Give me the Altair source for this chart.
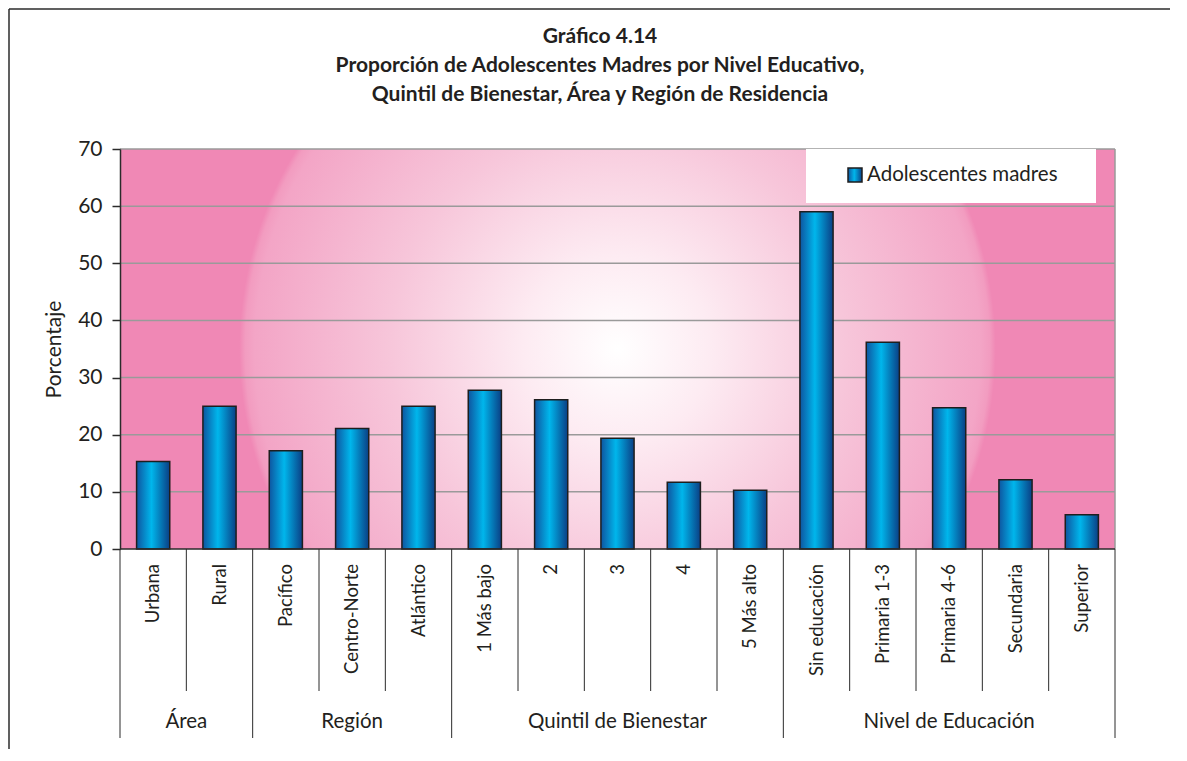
import altair as alt
import pandas as pd

# ---------------- data ----------------
CATEGORIES = ["Urbana", "Rural", "Pacífico", "Centro-Norte", "Atlántico",
              "1 Más bajo", "2", "3", "4", "5 Más alto",
              "Sin educación", "Primaria 1-3", "Primaria 4-6", "Secundaria", "Superior"]
VALUES = [15.3, 25.0, 17.2, 21.1, 25.0,
          27.8, 26.1, 19.4, 11.7, 10.3,
          59.0, 36.2, 24.7, 12.1, 6.0]
GROUPS = ["Área", "Región", "Quintil de Bienestar", "Nivel de Educación"]
GROUP_SIZES = [2, 3, 5, 5]
Y_TICKS = [0, 10, 20, 30, 40, 50, 60, 70]
SERIES = "Adolescentes madres"
Y_TITLE = "Porcentaje"
TITLE_LINES = ["Gráfico 4.14",
               "Proporción de Adolescentes Madres por Nivel Educativo,",
               "Quintil de Bienestar, Área y Región de Residencia"]

# ---------------- styling ----------------
W, H = 995, 400
FONT = "Lato"
TXT = "#231f20"
LINE = "#2b2b2b"
GRID = "#9a9a9a"

n = len(CATEGORIES)
group_edges = [0]
for s in GROUP_SIZES:
    group_edges.append(group_edges[-1] + s)
group_centers = [(group_edges[i] + group_edges[i + 1]) / 2 for i in range(len(GROUPS))]

bars_df = pd.DataFrame({"cat": CATEGORIES, "val": VALUES})
cat_df = pd.DataFrame({"label": CATEGORIES, "pos": [i + 0.5 for i in range(n)]})
grp_df = pd.DataFrame({"label": GROUPS, "pos": group_centers})
short_df = pd.DataFrame({"b": [b for b in range(n + 1) if b not in group_edges]})
long_df = pd.DataFrame({"b": group_edges})
grid_df = pd.DataFrame({"val": Y_TICKS[1:]})
one = pd.DataFrame({"k": [0]})

bg_grad = {
    "gradient": "radial",
    "x1": 0.5, "y1": 0.5, "r1": 0,
    "x2": 0.5, "y2": 0.5, "r2": 0.38,
    "stops": [
        {"offset": 0.0, "color": "#ffffff"},
        {"offset": 0.25, "color": "#fdebf2"},
        {"offset": 0.6, "color": "#f7c6da"},
        {"offset": 0.96, "color": "#f3a5c6"},
        {"offset": 0.985, "color": "#f29cc0"},
        {"offset": 1.0, "color": "#f088b5"},
    ],
}
bar_grad = {
    "gradient": "linear",
    "x1": 0, "y1": 0, "x2": 1, "y2": 0,
    "stops": [
        {"offset": 0.0, "color": "#0e55a0"},
        {"offset": 0.45, "color": "#00b6ec"},
        {"offset": 1.0, "color": "#0a3f85"},
    ],
}

lin_x = alt.Scale(domain=[0, n], nice=False, zero=False)
y_scale = alt.Scale(domain=[0, 70], nice=False)
y_axis = alt.Axis(values=Y_TICKS, title=Y_TITLE, grid=False, zindex=1,
                  labelFont=FONT, labelFontSize=21, labelColor=TXT,
                  labelPadding=10, tickSize=8, tickWidth=1.5, tickColor=LINE,
                  domainColor=LINE, domainWidth=1.5,
                  titleFont=FONT, titleFontSize=21, titleFontWeight="normal",
                  titleColor=TXT, titlePadding=13)

background = alt.Chart(one).mark_rect(fill=bg_grad).encode(
    x=alt.value(0), x2=alt.value(W), y=alt.value(0), y2=alt.value(H))

gridlines = alt.Chart(grid_df).mark_rule(color=GRID, strokeWidth=1.5).encode(
    y=alt.Y("val:Q", scale=y_scale, axis=y_axis))

right_border = alt.Chart(one).mark_rule(color=GRID, strokeWidth=1.5).encode(
    x=alt.value(W), y=alt.value(0), y2=alt.value(H))

bars = alt.Chart(bars_df).mark_bar(fill=bar_grad, stroke="#1e1e1e", strokeWidth=1.5).encode(
    x=alt.X("cat:N", sort=CATEGORIES,
            scale=alt.Scale(paddingInner=0.5, paddingOuter=0.25), axis=None),
    y=alt.Y("val:Q", scale=y_scale, axis=y_axis),
)

baseline = alt.Chart(one).mark_rule(color=LINE, strokeWidth=1.5).encode(
    x=alt.value(0), x2=alt.value(W), y=alt.value(H))

# legend (inside plot, top-right)
legend_box = alt.Chart(one).mark_rect(fill="white").encode(
    x=alt.value(686), x2=alt.value(976), y=alt.value(0), y2=alt.value(54))
legend_sym = alt.Chart(one).mark_rect(fill=bar_grad, stroke="#1e1e1e", strokeWidth=1.5).encode(
    x=alt.value(728), x2=alt.value(742), y=alt.value(19), y2=alt.value(33))
legend_txt = alt.Chart(one).mark_text(
    text=SERIES, font=FONT, fontSize=20.5, color=TXT, align="left", baseline="middle").encode(
    x=alt.value(747), y=alt.value(26))

# category table below the axis
short_rules = alt.Chart(short_df).mark_rule(color=LINE, strokeWidth=1).encode(
    x=alt.X("b:Q", scale=lin_x, axis=None), y=alt.value(H), y2=alt.value(H + 142))
long_rules = alt.Chart(long_df).mark_rule(color=LINE, strokeWidth=1).encode(
    x=alt.X("b:Q", scale=lin_x, axis=None), y=alt.value(H), y2=alt.value(H + 189))
cat_text = alt.Chart(cat_df).mark_text(
    angle=270, align="right", baseline="middle", font=FONT, fontSize=18.5, color=TXT).encode(
    x=alt.X("pos:Q", scale=lin_x, axis=None), y=alt.value(H + 15), text="label:N")
grp_text = alt.Chart(grp_df).mark_text(
    align="center", baseline="middle", font=FONT, fontSize=20.5, color=TXT).encode(
    x=alt.X("pos:Q", scale=lin_x, axis=None), y=alt.value(H + 173), text="label:N")

# page frame
frame_top = alt.Chart(one).mark_rule(color=LINE, strokeWidth=1.5).encode(
    x=alt.value(-111), x2=alt.value(1050), y=alt.value(-140))
frame_left = alt.Chart(one).mark_rule(color=LINE, strokeWidth=1.5).encode(
    x=alt.value(-111), y=alt.value(-140), y2=alt.value(600))

# title lines
title_layers = []
for i, line in enumerate(TITLE_LINES):
    title_layers.append(
        alt.Chart(one).mark_text(text=line, font=FONT, fontSize=21, fontWeight="bold",
                                 color=TXT, align="center", baseline="middle").encode(
            x=alt.value(480), y=alt.value(-112 + 29 * i)))

chart = alt.layer(
    background, gridlines, right_border, bars, baseline,
    legend_box, legend_sym, legend_txt,
    short_rules, long_rules, cat_text, grp_text,
    frame_top, frame_left, *title_layers,
).resolve_scale(x="independent").properties(
    width=W, height=H, padding=0, background="white"
).configure_view(stroke=None)

chart.save("out.html", embed_options={"renderer": "svg", "actions": False})
